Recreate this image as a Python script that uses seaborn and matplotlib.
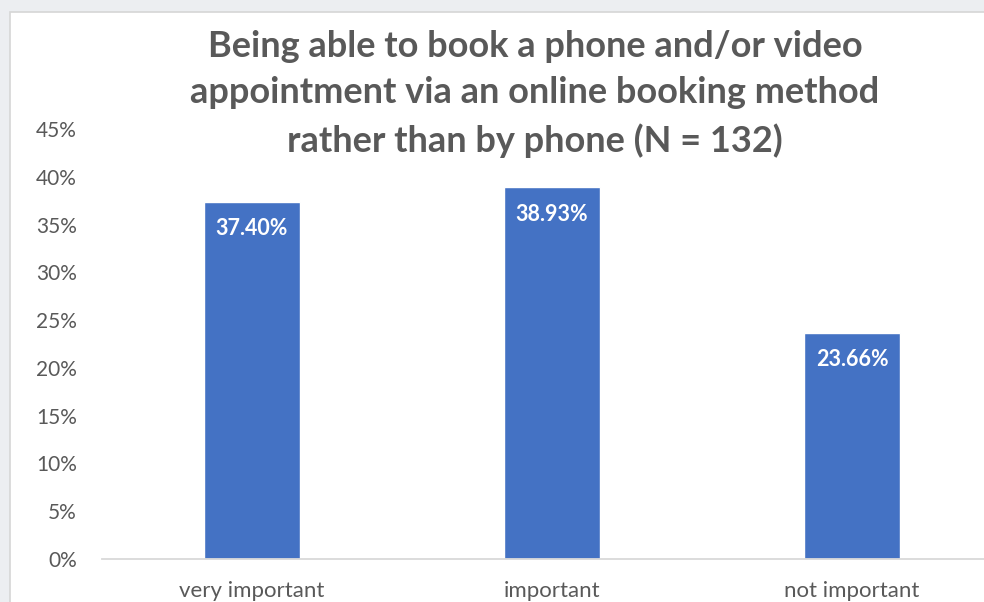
import numpy as np
import pandas as pd
import matplotlib
matplotlib.use('Agg')
import matplotlib.pyplot as plt
import seaborn as sns
from matplotlib.patches import Rectangle

categories = ['very important', 'important', 'not important']
shares = [37.40, 38.93, 23.66]
ytick_values = [0, 5, 10, 15, 20, 25, 30, 35, 40, 45]
title = 'Being able to book a phone and/or video\nappointment via an online booking method\nrather than by phone (N = 132)'

sns.set_style('white')
plt.rcParams['font.family'] = ['Lato', 'DejaVu Sans']

W, H = 984, 602
fig = plt.figure(figsize=(W / 100, H / 100), dpi=100)
fig.patch.set_facecolor('#eceef1')

# white chart panel (runs off the right/bottom edge)
panel = Rectangle((10 / W, -0.1), 1.2, (H - 12) / H + 0.1, transform=fig.transFigure,
                  facecolor='white', edgecolor='#d6d6d6', linewidth=1.2, zorder=-1)
fig.patches.append(panel)

ax = fig.add_axes([102 / W, 43 / H, 900 / W, 430 / H])
ax.set_facecolor('none')

df = pd.DataFrame({'cat': categories, 'val': shares})
sns.barplot(data=df, x='cat', y='val', color='#4472c4', width=0.317, saturation=1, ax=ax)

ax.set_xlim(-0.5, 2.5)
ax.set_ylim(0, 45)
ax.set_yticks(ytick_values)
ax.set_yticklabels([f'{v}%' for v in ytick_values])
ax.set_xlabel('')
ax.set_ylabel('')
for s in ['top', 'right', 'left']:
    ax.spines[s].set_visible(False)
ax.spines['bottom'].set_color('#d9d9d9')
ax.spines['bottom'].set_linewidth(1.3)
ax.tick_params(axis='both', length=0, labelcolor='#595959')
ax.tick_params(axis='y', pad=18, labelsize=15)
ax.tick_params(axis='x', pad=16, labelsize=16)

for p, v in zip(ax.patches, shares):
    ax.annotate(f'{v:.2f}%', (p.get_x() + p.get_width() / 2, p.get_height()),
                xytext=(0, -27), textcoords='offset pixels', ha='center', va='center',
                color='white', fontsize=15.5, fontweight='bold')

fig.text(535 / W, (H - 94) / H, title, ha='center', va='center', fontsize=26,
         fontweight='bold', color='#595959', linespacing=1.5)

fig.savefig('out.png', dpi=100, facecolor=fig.get_facecolor())
